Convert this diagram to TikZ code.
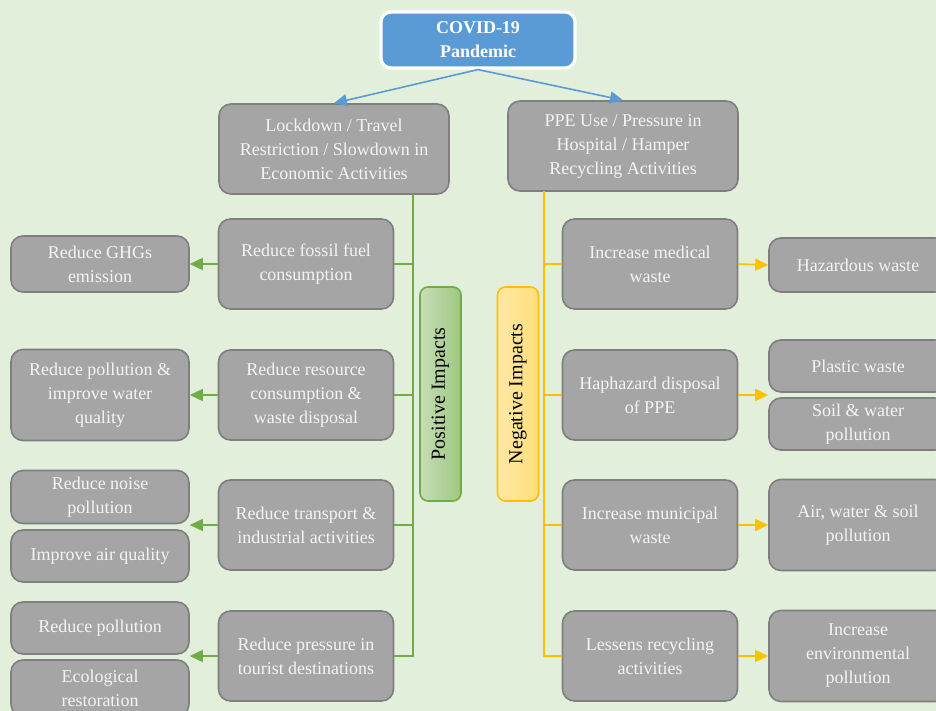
\documentclass[tikz,border=0pt]{standalone}
\usepackage{fontspec}
\setmainfont{Liberation Serif}
\usetikzlibrary{arrows.meta}
\definecolor{bgcol}{HTML}{E2EFDA}
\definecolor{boxfill}{HTML}{A5A5A5}
\definecolor{boxline}{HTML}{7F7F7F}
\definecolor{boxtext}{HTML}{F4F4F4}
\definecolor{covblue}{HTML}{5B9BD5}
\definecolor{posgreen}{HTML}{70AD47}
\definecolor{negorange}{HTML}{FFC000}
\begin{document}
\begin{tikzpicture}[x=0.5pt,y=-0.5pt]
                    \tikzset{
                        box/.style={draw=boxline, fill=boxfill, rounded corners=6pt, line width=0.8pt, text=boxtext, align=center, inner sep=2pt, font=\fontsize{9}{12}\selectfont},
                        covbox/.style={draw=white, fill=covblue, rounded corners=5pt, line width=1.6pt, text=white, align=center, minimum width=97pt, minimum height=28pt, font=\fontsize{9}{12}\selectfont\bfseries},
                        head/.style={box, minimum width=115pt, minimum height=45pt},
                        mid/.style={box, minimum width=87.5pt, minimum height=45pt},
                        outer/.style={box, minimum width=89pt},
                        impact/.style={rounded corners=4pt, line width=0.8pt, minimum width=20.5pt, minimum height=107pt, inner sep=0pt, label={[rotate=90, font=\fontsize{10}{12}\selectfont]center:#1}},
                        blarc/.style={draw=covblue, line width=0.8pt, -{Triangle[length=6.5pt,width=6pt]}},
                        garc/.style={draw=posgreen, line width=0.8pt, -{Triangle[length=6.5pt,width=6pt]}},
                        oarc/.style={draw=negorange, line width=0.8pt, -{Triangle[length=6.5pt,width=6pt]}},
                        gline/.style={draw=posgreen, line width=0.8pt},
                        oline/.style={draw=negorange, line width=0.8pt}
                    }
                    \useasboundingbox (0,0) rectangle (936,711);
                    \fill[bgcol] (0,0) rectangle (936,711);
                    \clip (0,0) rectangle (936,711);

                    \draw node[covbox] (covid) at (478,40) {COVID-19\\Pandemic};
                    \draw node[head] (lock) at (334,149) {Lockdown / Travel\\Restriction / Slowdown in\\Economic Activities};
                    \draw node[head] (ppe) at (623,146) {PPE Use / Pressure in\\Hospital / Hamper\\Recycling Activities};

                    % positive side
                    \draw node[mid] (fuel) at (306,264) {Reduce fossil fuel\\consumption};
                    \draw node[mid] (resource) at (306,395) {Reduce resource\\consumption \&\\waste disposal};
                    \draw node[mid] (transport) at (306,525) {Reduce transport \&\\industrial activities};
                    \draw node[mid] (tourist) at (306,656) {Reduce pressure in\\tourist destinations};
                    \draw node[outer, minimum height=28pt] (ghg) at (100,264) {Reduce GHGs\\emission};
                    \draw node[outer, minimum height=45.5pt] (water) at (100,395) {Reduce pollution \&\\improve water\\quality};
                    \draw node[outer, minimum height=26.5pt] (noise) at (100,497) {Reduce noise\\pollution};
                    \draw node[outer, minimum height=26pt] (air) at (100,556) {Improve air quality};
                    \draw node[outer, minimum height=26pt] (pollution) at (100,628) {Reduce pollution};
                    \draw node[outer, minimum height=28pt] (ecology) at (100,688) {Ecological\\restoration};

                    % negative side
                    \draw node[mid] (medical) at (650,264) {Increase medical\\waste};
                    \draw node[mid] (disposal) at (650,395) {Haphazard disposal\\of PPE};
                    \draw node[mid] (municipal) at (650,525) {Increase municipal\\waste};
                    \draw node[mid] (recycling) at (650,656) {Lessens recycling\\activities};
                    \draw node[outer, minimum height=27pt] (hazard) at (858,265) {Hazardous waste};
                    \draw node[outer, minimum height=26pt] (plastic) at (858,366) {Plastic waste};
                    \draw node[outer, minimum height=26pt] (soil) at (858,424) {Soil \& water\\pollution};
                    \draw node[outer, minimum height=45.5pt] (aws) at (858,525) {Air, water \& soil\\pollution};
                    \draw node[outer, minimum height=45.5pt] (environ) at (858,656) {Increase\\environmental\\pollution};

                    \draw node[impact=Positive Impacts, draw=posgreen, left color=posgreen!40!white, right color=posgreen!68!white] (positive) at (440.5,394) {};
                    \draw node[impact=Negative Impacts, draw=negorange, left color=negorange!36!white, right color=negorange!52!white] (negative) at (518,394) {};

                    \draw[blarc] (covid.south) -- (lock.north);
                    \draw[blarc] (covid.south) -- (ppe.north);

                    \coordinate (gtop) at (413,194);
                    \coordinate (otop) at (544,191);
                    \draw[gline] (gtop) |- (tourist.east);
                    \draw[oline] (otop) |- (recycling.west);
                    \foreach \x in {fuel, resource, transport}{
                    \draw[gline] (\x.east) -- (\x.east -| gtop);
                    }
                    \foreach \x in {medical, disposal, municipal}{
                    \draw[oline] (\x.west) -- (\x.west -| otop);
                    }

                    \foreach \x/\y in {fuel/ghg, resource/water}{
                    \draw[garc] (\x.west) -- (\y.east);
                    }
                    \draw[garc] (transport.west) -- (transport.west -| noise.east);
                    \draw[garc] (tourist.west) -- (tourist.west -| pollution.east);
                    \foreach \x/\y in {medical/hazard, municipal/aws, recycling/environ}{
                    \draw[oarc] (\x.east) -- (\y.west);
                    }
                    \draw[oarc] (disposal.east) -- (disposal.east -| plastic.west);
                \end{tikzpicture}
\end{document}
